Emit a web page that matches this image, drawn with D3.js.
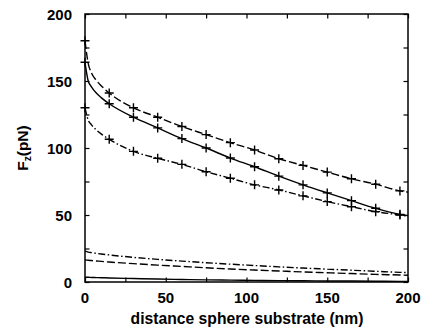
<!DOCTYPE html>
<html>
<head>
<meta charset="utf-8">
<script src="https://cdn.jsdelivr.net/npm/d3@7"></script>
<style>
  html, body { margin: 0; padding: 0; background: #fff; }
  svg { display: block; }
  text { font-family: "Liberation Sans", Arial, Helvetica, sans-serif; fill: #000; }
</style>
</head>
<body>
<svg id="chart" width="424" height="335"></svg>
<script>
// Sphere–substrate distance (nm) at which the curves are sampled
const distance = [0, 2, 4, 7, 10, 15, 30, 45, 60, 75, 90, 105, 120, 135, 150, 165, 180, 195, 200];
// Distances that carry a "+" marker
const markerDistance = [0, 15, 30, 45, 60, 75, 90, 105, 120, 135, 150, 165, 180, 195];

// Vertical force F_z (pN) for each curve
const upperDashed  = [180, 163, 156, 150.5, 146.5, 141, 130, 123, 116, 110, 104, 98.5, 92, 87, 82, 77, 73, 68, 67];
const upperSolid   = [164, 150, 145.7, 141, 137.6, 133, 123, 115, 107, 100, 92.5, 86, 79, 72.5, 66.5, 60.7, 55, 50.5, 49.5];
const upperDashDot = [130, 120.8, 117.3, 113.5, 110.5, 106.5, 97.5, 92.3, 87.8, 82.3, 77.4, 72.5, 68.7, 64.3, 60, 56.2, 52.5, 50, 49];
const lowerDashDot = [23, 22.3, 21.9, 21.4, 20.9, 20.2, 18.4, 16.9, 15.6, 14.4, 13.3, 12.3, 11.3, 10.4, 9.6, 8.8, 8.0, 7.2, 7.0];
const lowerDashed  = [16.5, 16.2, 16.0, 15.7, 15.4, 14.9, 13.7, 12.6, 11.6, 10.6, 9.7, 8.9, 8.2, 7.5, 6.9, 6.3, 5.7, 5.2, 5.0];
const lowerSolid   = [3.6, 3.5, 3.4, 3.3, 3.2, 3.0, 2.6, 2.2, 1.9, 1.6, 1.4, 1.2, 1.0, 0.9, 0.8, 0.7, 0.6, 0.5, 0.5];

const xTicks = [0, 50, 100, 150, 200];
const yTicks = [0, 50, 100, 150, 200];
const minorStep = 25;

const series = [
  { values: upperDashed,  dash: "8,3",           markers: true },
  { values: upperSolid,   dash: null,            markers: true },
  { values: upperDashDot, dash: "7,2.5,1.5,2.5", markers: true },
  { values: lowerDashDot, dash: "7,2.5,1.5,2.5", markers: false },
  { values: lowerDashed,  dash: "8,3",           markers: false },
  { values: lowerSolid,   dash: null,            markers: false }
];

const svg = d3.select("#chart");
const x = d3.scaleLinear().domain([0, 200]).range([85, 408]);
const y = d3.scaleLinear().domain([0, 200]).range([282, 14]);

const g = svg.append("g");

// Frame with inward ticks on all four sides
const tickLen = 4.5;
const minor = d3.range(0, 200 + 1e-9, minorStep);

g.append("g").attr("transform", `translate(0,${y(0)})`)
  .call(d3.axisBottom(x).tickValues(minor).tickSizeInner(-tickLen).tickSizeOuter(0).tickFormat(""))
  .call(a => a.select(".domain").remove());
g.append("g").attr("transform", `translate(0,${y(200)})`)
  .call(d3.axisTop(x).tickValues(minor).tickSizeInner(-tickLen).tickSizeOuter(0).tickFormat(""))
  .call(a => a.select(".domain").remove());
g.append("g").attr("transform", `translate(${x(0)},0)`)
  .call(d3.axisLeft(y).tickValues(minor).tickSizeInner(-tickLen).tickSizeOuter(0).tickFormat(""))
  .call(a => a.select(".domain").remove());
g.append("g").attr("transform", `translate(${x(200)},0)`)
  .call(d3.axisRight(y).tickValues(minor).tickSizeInner(-tickLen).tickSizeOuter(0).tickFormat(""))
  .call(a => a.select(".domain").remove());
g.selectAll(".tick line").attr("stroke", "#000").attr("stroke-width", 1.2);

// Tick labels
g.selectAll(".xlab").data(xTicks).enter().append("text")
  .attr("x", d => x(d)).attr("y", 302.5)
  .attr("text-anchor", "middle").attr("font-size", 15).attr("font-weight", "bold")
  .text(d => d);
g.selectAll(".ylab").data(yTicks).enter().append("text")
  .attr("x", 72).attr("y", d => y(d) + 5.5)
  .attr("text-anchor", "end").attr("font-size", 15).attr("font-weight", "bold")
  .text(d => d);

// Axis titles
g.append("text")
  .attr("x", 247).attr("y", 324)
  .attr("text-anchor", "middle").attr("font-size", 15.7).attr("font-weight", "bold")
  .text("distance sphere substrate (nm)");
const yt = g.append("text")
  .attr("transform", `translate(28,148) rotate(-90)`)
  .attr("text-anchor", "middle").attr("font-size", 15.5).attr("font-weight", "bold");
yt.append("tspan").text("F");
yt.append("tspan").attr("font-size", 10).attr("dy", 3).text("z");
yt.append("tspan").attr("dy", -3).text("(pN)");

// Curves
const line = d3.line()
  .x((d, i) => x(distance[i]))
  .y(d => y(d))
  .curve(d3.curveMonotoneX);

const plot = g.append("g");
series.forEach(s => {
  plot.append("path")
    .attr("d", line(s.values))
    .attr("fill", "none")
    .attr("stroke", "#000")
    .attr("stroke-width", 1.4)
    .attr("stroke-dasharray", s.dash);
  if (s.markers) {
    const pts = markerDistance.map(m => [m, s.values[distance.indexOf(m)]]);
    const arm = 4.5;
    plot.selectAll(null).data(pts).enter().append("path")
      .attr("d", d => `M${x(d[0]) - arm},${y(d[1])}H${x(d[0]) + arm}M${x(d[0])},${y(d[1]) - arm}V${y(d[1]) + arm}`)
      .attr("stroke", "#000").attr("stroke-width", 1.4).attr("fill", "none");
  }
});

// Plot border
g.append("rect")
  .attr("x", x(0)).attr("y", y(200))
  .attr("width", x(200) - x(0)).attr("height", y(0) - y(200))
  .attr("fill", "none").attr("stroke", "#000").attr("stroke-width", 1.5);
</script>
</body>
</html>
